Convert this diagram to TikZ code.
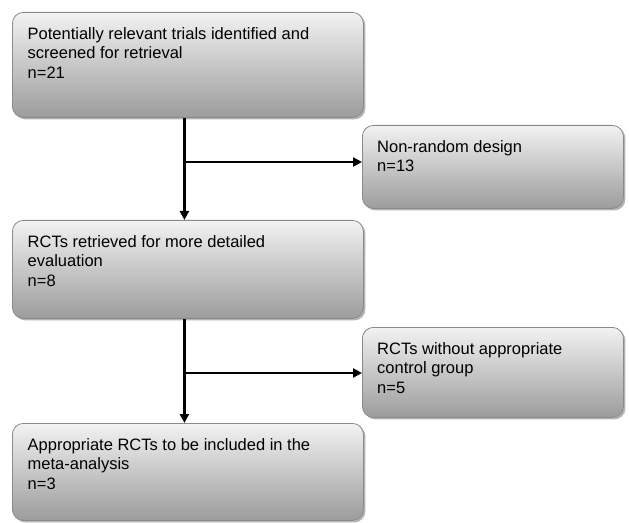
\documentclass[tikz,border=0pt]{standalone}
\usepackage{fontspec}
\setmainfont{Liberation Sans}
\usetikzlibrary{arrows.meta,shadows}
\definecolor{boxtop}{HTML}{F2F2F2}
\definecolor{boxbot}{HTML}{9C9C9C}
\definecolor{boxedge}{HTML}{8A8A8A}
\definecolor{shadowc}{HTML}{B4B4B4}
\begin{document}
\begin{tikzpicture}[x=1bp,y=-1bp,
  box/.style={rectangle, rounded corners=11bp, draw=boxedge, line width=0.8bp,
    top color=boxtop, bottom color=boxbot, anchor=north west, inner sep=0pt,
    drop shadow={shadow xshift=2bp, shadow yshift=-2bp, fill=shadowc, opacity=1}},
  txt/.style={anchor=north west, inner sep=0pt, align=left,
    font=\fontsize{16.5bp}{19.5bp}\selectfont},
  arr/.style={line width=2.4bp, -{Triangle[length=9bp,width=9bp]}}]
\useasboundingbox[fill=white] (0,0) rectangle (629,523);
% boxes
\node[box, minimum width=351bp, minimum height=105bp] (b1) at (12,12) {};
\node[box, minimum width=261bp, minimum height=83bp] (b2) at (362,125) {};
\node[box, minimum width=351bp, minimum height=98bp] (b3) at (12,220) {};
\node[box, minimum width=261bp, minimum height=90bp] (b4) at (362,327) {};
\node[box, minimum width=351bp, minimum height=97bp] (b5) at (12,423) {};
% texts
\node[txt] (t1) at ([xshift=15.5bp,yshift=-13bp]b1.north west)
  {\rule{0pt}{14bp}Potentially relevant trials identified and\\screened for retrieval\\n=21};
\node[txt] (t2) at ([xshift=15bp,yshift=-13bp]b2.north west)
  {\rule{0pt}{14bp}Non-random design\\n=13};
\node[txt] (t3) at ([xshift=15.5bp,yshift=-13bp]b3.north west)
  {\rule{0pt}{14bp}RCTs retrieved for more detailed\\evaluation\\n=8};
\node[txt] (t4) at ([xshift=15bp,yshift=-13bp]b4.north west)
  {\rule{0pt}{14bp}RCTs without appropriate\\control group\\n=5};
\node[txt] (t5) at ([xshift=15.5bp,yshift=-13bp]b5.north west)
  {\rule{0pt}{14bp}Appropriate RCTs to be included in the\\meta-analysis\\n=3};
% connectors
\coordinate (j1) at (184,162);
\coordinate (j2) at (184,373);
\draw[arr] ([xshift=-3.5bp]b1.south) -- ([xshift=-3.5bp]b3.north);
\draw[arr] (j1) -- (j1 -| b2.west);
\draw[arr] ([xshift=-3.5bp]b3.south) -- ([xshift=-3.5bp]b5.north);
\draw[arr] (j2) -- (j2 -| b4.west);
\end{tikzpicture}
\end{document}
